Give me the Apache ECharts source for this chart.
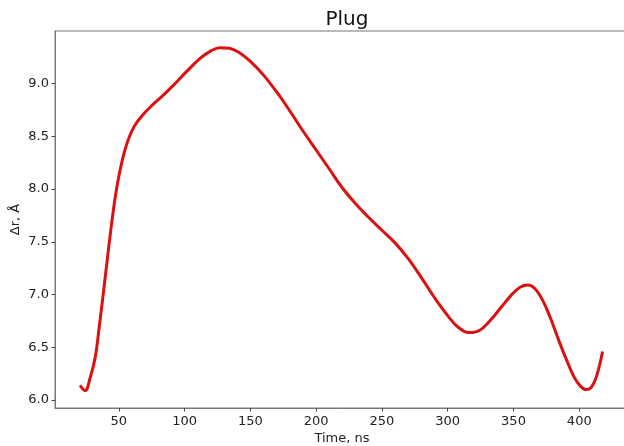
<!DOCTYPE html>
<html>
<head>
<meta charset="utf-8">
<script src="https://cdn.jsdelivr.net/npm/echarts@6/dist/echarts.min.js"></script>
<style>
html,body{margin:0;padding:0;background:#fff;}
#chart{width:624px;height:446px;}
</style>
</head>
<body>
<div id="chart"></div>
<script>
const chartTitle = "Plug";
const xName = "Time, ns";
const yName = "Δr, Å";
const timeNs = [20.6, 24.4, 28.2, 32.0, 35.0, 38.3, 41.5, 45.0, 48.0, 51.0, 54.0, 57.5, 62.0, 68.0, 75.0, 83.0, 92.0, 102.0, 112.0, 120.0, 127.0, 134.0, 142.0, 150.0, 160.0, 170.0, 180.0, 190.0, 200.0, 210.0, 220.0, 230.0, 240.0, 250.0, 260.0, 270.0, 280.0, 290.0, 300.0, 308.0, 316.0, 324.0, 332.0, 340.0, 348.0, 355.0, 361.0, 366.0, 372.0, 378.0, 384.0, 390.0, 396.0, 401.0, 405.0, 409.0, 413.0, 417.7];
const deltaR = [6.14, 6.09, 6.21, 6.40, 6.68, 7.02, 7.36, 7.72, 7.98, 8.18, 8.34, 8.48, 8.60, 8.70, 8.79, 8.88, 8.99, 9.12, 9.24, 9.31, 9.34, 9.335, 9.29, 9.21, 9.08, 8.92, 8.74, 8.55, 8.37, 8.19, 8.01, 7.86, 7.73, 7.61, 7.49, 7.34, 7.16, 6.97, 6.80, 6.69, 6.64, 6.66, 6.75, 6.87, 6.99, 7.07, 7.09, 7.06, 6.95, 6.78, 6.58, 6.39, 6.22, 6.13, 6.10, 6.12, 6.22, 6.46];
const xTicks = [50, 100, 150, 200, 250, 300, 350, 400];
const yTicks = [6.0, 6.5, 7.0, 7.5, 8.0, 8.5, 9.0];

const seriesData = timeNs.map((t, i) => [t, deltaR[i]]);
const font = "'DejaVu Sans', sans-serif";
const chart = echarts.init(document.getElementById('chart'), null, {renderer: 'canvas'});
chart.setOption({
  animation: false,
  backgroundColor: '#ffffff',
  title: {
    text: chartTitle, left: 342, top: 5, textAlign: 'center',
    textStyle: {fontFamily: font, fontSize: 20, fontWeight: 'normal', color: '#111'}
  },
  grid: {left: 55, top: 31, bottom: 38, right: -5, show: true, borderColor: '#777', borderWidth: 1, containLabel: false, outerBoundsMode: 'none'},
  xAxis: {
    type: 'value', min: 1.5, max: 437.8,
    name: xName, nameLocation: 'middle', nameGap: 24, nameMoveOverlap: false,
    nameTextStyle: {fontFamily: font, fontSize: 13, color: '#222'},
    axisLine: {show: true, lineStyle: {color: '#777', width: 1}},
    axisTick: {show: true, length: 3.5, lineStyle: {color: '#444'}, customValues: xTicks},
    axisLabel: {fontFamily: font, fontSize: 13, color: '#222', margin: 7, customValues: xTicks},
    splitLine: {show: false}
  },
  yAxis: {
    type: 'value', min: 5.925, max: 9.498,
    name: yName, nameLocation: 'middle', nameGap: 33, nameMoveOverlap: false,
    nameTextStyle: {fontFamily: font, fontSize: 13, color: '#222'},
    axisLine: {show: true, lineStyle: {color: '#777', width: 1}},
    axisTick: {show: true, length: 3.5, lineStyle: {color: '#444'}, customValues: yTicks},
    axisLabel: {fontFamily: font, fontSize: 13, color: '#222', margin: 6, customValues: yTicks,
      formatter: v => v.toFixed(1)},
    splitLine: {show: false}
  },
  series: [{
    type: 'line', data: seriesData, showSymbol: false, smooth: 0.4,
    lineStyle: {color: '#dd1010', width: 3}, clip: true
  }]
});
</script>
</body>
</html>
